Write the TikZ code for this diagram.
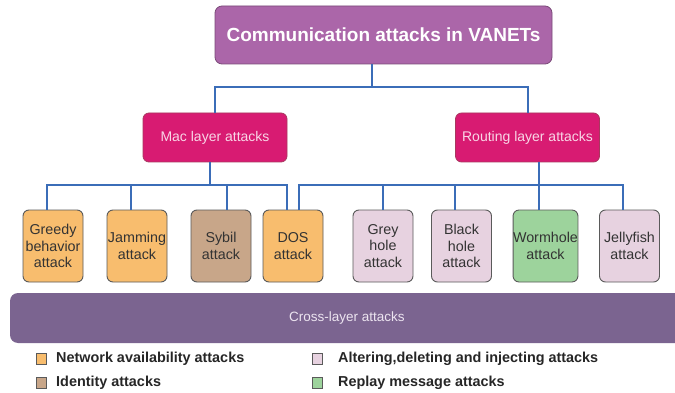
\documentclass[tikz,border=0pt]{standalone}
\usepackage{fontspec}
\setmainfont{Liberation Sans}
\definecolor{titlefill}{HTML}{AB66A9}
\definecolor{titleline}{HTML}{7A4A78}
\definecolor{macfill}{HTML}{D81B72}
\definecolor{macline}{HTML}{A8385F}
\definecolor{mactext}{HTML}{F8D6E6}
\definecolor{orangefill}{HTML}{F8BD6E}
\definecolor{sybilfill}{HTML}{C8A689}
\definecolor{lilacfill}{HTML}{E7D2E0}
\definecolor{greenfill}{HTML}{9DD39C}
\definecolor{barfill}{HTML}{7B6490}
\definecolor{bartext}{HTML}{ECE4F0}
\definecolor{connblue}{HTML}{3B6DB8}
\definecolor{boxline}{HTML}{5A5A5A}
\definecolor{boxtext}{HTML}{333333}
\tikzset{
  titlebox/.style={draw=titleline, line width=0.8pt, fill=titlefill, rounded corners=7pt,
    minimum width=337pt, minimum height=58pt, inner sep=0pt, text=white,
    font=\fontsize{19}{22}\selectfont\bfseries},
  layerbox/.style={draw=macline, line width=0.8pt, fill=macfill, rounded corners=6pt,
    minimum width=144pt, minimum height=49pt, inner sep=0pt, text=mactext,
    font=\fontsize{14}{16}\selectfont},
  attackbox/.style={draw=boxline, line width=0.9pt, rounded corners=6pt,
    minimum width=60pt, minimum height=72pt, inner sep=0pt, text=boxtext, align=center,
    font=\fontsize{14.3}{16.5}\selectfont},
  conn/.style={draw=connblue, line width=2pt},
  legsq/.style={draw=boxline, line width=0.8pt, minimum width=10pt, minimum height=11pt, inner sep=0pt},
  legtext/.style={anchor=west, inner sep=0pt, text=black!85, font=\fontsize{14.4}{16}\selectfont\bfseries},
}
\begin{document}
\begin{tikzpicture}[x=1pt,y=-1pt]
\useasboundingbox (0,0) rectangle (675,393);
\clip (0,0) rectangle (675,393);
\fill[white] (0,0) rectangle (675,393);
% nodes
\node[titlebox] (top) at (383.5,35) {Communication attacks in VANETs};
\node[layerbox] (mac) at (215,137.5) {Mac layer attacks};
\node[layerbox] (route) at (527.5,137.5) {Routing layer attacks};
\node[attackbox, fill=orangefill] (greedy) at (53,246) {Greedy\\behavior\\attack};
\node[attackbox, fill=orangefill] (jam) at (137,246) {Jamming\\attack};
\node[attackbox, fill=sybilfill] (sybil) at (221,246) {Sybil\\attack};
\node[attackbox, fill=orangefill] (dos) at (293,246) {DOS\\attack};
\node[attackbox, fill=lilacfill] (grey) at (383,246) {Grey\\hole\\attack};
\node[attackbox, fill=lilacfill] (black) at (461.5,246) {Black\\hole\\attack};
\node[attackbox, fill=greenfill] (worm) at (545.5,246) {Wormhole\\attack};
\node[attackbox, fill=lilacfill] (jelly) at (629.5,246) {Jellyfish\\attack};
\node[fill=barfill, rounded corners=8pt, minimum width=690pt, minimum height=50pt, inner sep=0pt] (cross) at (355,318) {};
\node[text=bartext, font=\fontsize{13.5}{16}\selectfont, inner sep=0pt] (crosslabel) at (347,318) {Cross-layer attacks};
% connectors
\draw[conn] ([xshift=-11.5pt]top.south) -- ++(0,23) coordinate (tj);
\draw[conn] (mac.north) |- (tj) -| (route.north);
\draw[conn] ([xshift=-5pt]mac.south) -- ++(0,23);
\draw[conn] ([xshift=-6pt]greedy.north) -- ++(0,-25) -| ([xshift=-6pt]dos.north);
\draw[conn] ([xshift=-6pt]jam.north) -- ++(0,-25);
\draw[conn] ([xshift=6pt]sybil.north) -- ++(0,-25);
\draw[conn] ([xshift=11.5pt]route.south) -- ++(0,23);
\draw[conn] ([xshift=6pt]dos.north) -- ++(0,-25) -| ([xshift=-6.5pt]jelly.north);
\draw[conn] (grey.north) -- ++(0,-25);
\draw[conn] ([xshift=-6.5pt]black.north) -- ++(0,-25);
\draw[conn] ([xshift=-6.5pt]worm.north) -- ++(0,-25);
% legend
\node[legsq, fill=orangefill] (l1) at (41,359) {};
\node[legtext] (t1) at (56,358.5) {Network availability attacks};
\node[legsq, fill=sybilfill] (l2) at (41,383) {};
\node[legtext] (t2) at (56,382.5) {Identity attacks};
\node[legsq, fill=lilacfill] (l3) at (317,359) {};
\node[legtext] (t3) at (338,358.5) {Altering,deleting and injecting attacks};
\node[legsq, fill=greenfill] (l4) at (317,383) {};
\node[legtext] (t4) at (338,382.5) {Replay message attacks};
\end{tikzpicture}
\end{document}
